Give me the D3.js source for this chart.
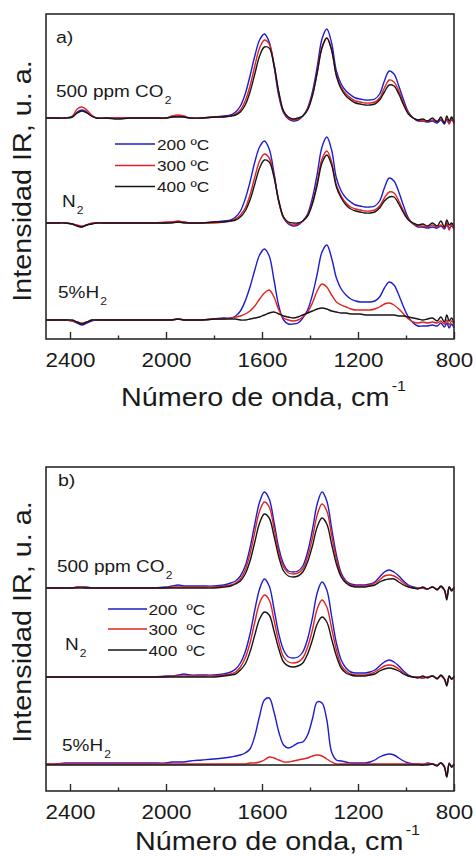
<!DOCTYPE html>
<html>
<head>
<meta charset="utf-8">
<script src="https://cdn.jsdelivr.net/npm/d3@7"></script>
<style>
  body { margin: 0; background: #fff; }
  svg text { font-family: "Liberation Sans", Arial, sans-serif; fill: #1a1a1a; }
</style>
</head>
<body>
<script>
//wavenumber grid shared by every spectrum (cm-1)
var wavenumbers = [
  2500,2460,2420,2390,2370,2350,2330,2310,2290,2250,
  2200,2150,2100,2050,2000,1975,1950,1925,1900,1850,
  1800,1760,1730,1710,1690,1670,1650,1630,1610,1590,
  1570,1550,1530,1510,1490,1470,1450,1430,1410,1390,
  1370,1350,1330,1310,1290,1270,1250,1230,1210,1190,
  1170,1150,1130,1110,1090,1070,1050,1030,1010,990,
  970,950,930,910,890,870,855,840,830,820,
  810,800];

var temperatures = ['200', '300', '400'];
var colors = ['#1c1cd0', '#e2221e', '#151515'];
var gasNames = ['500 ppm CO', 'N', '5%H'];   //each one gets a subscript 2
var majorTicks = [2400, 2000, 1600, 1200, 800];
var minorTicks = [2200, 1800, 1400, 1000];

//vertical offset of each gas trace (a.u.)
var offsetsA = [221, 116, 19];
var offsetsB = [203, 114, 27];

//PANEL A intensities above each baseline (a.u.)
var a_co2_200 = [
  0,0,0,1,6,8,6,2,0,0,
  0,0,0,0,0,1,2,1,0,0,
  1,2,3,6,12,24,42,62,78,84,
  76,52,22,5,-1,-3,-2,2,10,26,
  51,79,89,75,47,34,27,23,20,19,
  18,18,19,24,37,47,44,32,18,6,
  0,-3,-3,-4,-3,-5,-2,-6,-1,-5,
  -2,-4];
var a_co2_300 = [
  0,0,0,2,9,11,8,3,0,0,
  0,0,0,0,0,2,3,2,0,0,
  1,1,2,4,8,17,32,52,70,78,
  74,54,25,6,0,-2,-1,2,9,23,
  46,71,80,68,43,31,24,20,17,16,
  15,15,16,20,30,38,36,27,15,5,
  0,-2,-3,-3,-2,-3,-1,-4,-2,-6,
  0,-6];
var a_co2_400 = [
  0,0,0,1,5,7,5,2,0,0,
  -1,0,0,0,0,1,1,1,0,0,
  1,1,2,3,6,13,26,44,62,71,
  70,53,26,7,1,-1,0,2,8,22,
  45,70,80,68,42,29,22,18,15,14,
  13,13,14,18,26,33,32,24,13,4,
  0,-2,-1,-3,0,-4,1,-5,2,-3,
  1,-4];
var a_n2_200 = [
  0,0,0,-1,-3,-4,-2,-1,0,0,
  0,0,0,0,0,1,1,1,0,0,
  1,2,3,6,12,24,41,61,76,82,
  74,50,21,5,-1,-3,-2,2,9,25,
  49,76,86,73,45,32,25,21,18,17,
  16,16,17,22,35,45,42,31,17,5,
  -1,-4,-4,-5,-4,-5,-3,-6,-2,-5,
  -3,-6];
var a_n2_300 = [
  0,0,0,-1,-2,-3,-2,0,0,0,
  0,0,0,0,1,1,2,1,0,0,
  0,1,2,4,8,15,28,46,62,69,
  65,47,22,5,0,-2,-1,2,8,21,
  41,64,72,61,38,27,20,16,14,13,
  12,12,13,17,25,31,30,22,12,4,
  -1,-3,-3,-4,-2,-4,-2,-5,0,-7,
  -1,-5];
var a_n2_400 = [
  0,0,0,-1,-3,-4,-2,-1,0,0,
  0,0,0,0,0,0,1,0,0,0,
  1,1,2,3,6,12,23,39,55,63,
  61,46,22,6,1,0,0,2,7,19,
  38,60,68,58,36,25,18,14,12,11,
  10,10,11,15,22,26,26,19,10,3,
  0,-2,-1,-3,0,-3,2,-4,3,-2,
  0,-3];
var a_h2_200 = [
  0,0,0,-1,-3,-5,-3,-1,0,0,
  0,0,0,0,0,0,1,0,0,0,
  1,2,2,4,9,19,33,50,65,71,
  64,40,14,0,-4,-4,-3,2,10,25,
  46,68,75,62,42,31,25,21,19,18,
  18,18,19,23,32,38,35,25,13,3,
  -3,-6,-6,-6,-5,-6,-3,-7,-3,-8,
  -4,-8];
var a_h2_300 = [
  0,0,0,-1,-2,-3,-2,0,0,0,
  0,0,0,0,0,0,1,0,0,0,
  1,1,2,3,4,6,9,14,21,27,
  30,23,10,2,0,-1,0,3,8,17,
  29,36,33,25,18,15,13,11,10,10,
  10,10,11,13,16,17,15,11,6,1,
  -2,-3,-2,-3,-2,-3,-1,-4,0,-5,
  -1,-4];
var a_h2_400 = [
  0,0,0,0,-2,-4,-2,0,0,0,
  0,0,0,0,0,0,1,0,0,0,
  1,1,1,1,0,0,1,2,3,5,
  7,8,6,4,3,2,3,5,7,9,
  11,12,11,9,8,7,7,6,6,6,
  5,5,5,5,5,5,5,4,4,3,
  2,1,0,1,2,-1,3,-2,5,-1,
  2,-3];

//PANEL B intensities above each baseline (a.u.)
var b_co2_200 = [
  0,0,0,0,1,1,1,0,0,0,
  0,0,0,0,1,2,3,2,2,2,
  2,3,5,7,12,22,40,64,86,96,
  89,66,40,24,17,16,17,22,36,58,
  84,96,87,60,33,15,7,4,3,3,
  3,4,6,11,16,18,16,12,7,3,
  1,0,0,-1,1,-1,1,-2,-10,1,
  -2,0];
var b_co2_300 = [
  0,0,0,0,1,1,0,0,0,0,
  0,0,0,0,0,1,1,1,1,1,
  1,2,3,5,9,18,34,56,77,86,
  81,60,36,21,15,14,15,19,31,50,
  73,84,77,53,29,13,6,3,2,2,
  2,3,5,8,12,13,12,9,5,2,
  0,0,0,-1,1,-1,1,-2,-9,0,
  -2,0];
var b_co2_400 = [
  0,0,0,0,0,0,0,0,0,0,
  0,0,0,0,0,0,0,0,0,0,
  0,1,2,4,7,14,27,46,65,74,
  70,52,31,17,12,11,12,16,26,42,
  61,70,64,44,24,11,5,2,1,1,
  1,2,3,6,8,9,9,6,3,1,
  0,-1,1,-1,1,-2,2,-2,-12,1,
  -3,1];
var b_n2_200 = [
  0,0,0,0,0,0,0,0,0,0,
  0,0,0,0,1,1,2,3,2,2,
  2,3,5,8,14,25,43,67,88,98,
  91,68,43,27,20,19,20,25,38,59,
  84,95,87,61,34,17,9,5,4,4,
  4,5,7,11,15,17,15,11,6,2,
  0,0,-1,0,1,-1,1,-2,-8,1,
  -2,0];
var b_n2_300 = [
  0,0,0,0,0,0,0,0,0,0,
  0,0,0,0,0,1,1,1,1,1,
  1,2,3,5,10,19,34,55,74,82,
  77,57,35,20,15,14,15,19,30,47,
  68,77,70,49,27,12,6,3,2,2,
  2,3,5,8,11,12,11,8,4,1,
  0,0,-1,0,1,-1,1,-2,-7,0,
  -2,0];
var b_n2_400 = [
  0,0,0,0,0,0,0,0,0,0,
  0,0,0,0,0,0,0,0,0,0,
  0,1,2,3,7,13,25,42,58,65,
  62,46,28,15,11,10,11,14,23,37,
  53,60,55,38,21,9,4,2,1,1,
  1,2,3,6,8,9,8,6,3,1,
  0,-1,1,-1,1,-2,2,-2,-9,1,
  -2,1];
var b_h2_200 = [
  0,0,1,1,1,1,1,1,1,1,
  1,1,1,1,1,2,2,2,3,4,
  5,6,7,8,9,11,15,28,48,64,
  66,52,32,19,16,18,21,22,29,45,
  62,61,44,12,4,3,2,1,1,1,
  1,2,4,7,9,10,9,6,3,1,
  0,0,-1,1,0,-1,1,-3,-13,1,
  -3,0];
var b_h2_300 = [
  0,0,0,0,0,0,0,0,0,0,
  0,0,0,0,0,0,0,0,0,0,
  0,0,0,0,0,0,1,1,2,4,
  7,6,4,2,2,3,4,5,6,8,
  9,8,5,2,0,0,0,0,0,0,
  0,0,0,0,0,0,0,0,0,0,
  0,0,0,0,0,-1,1,-2,-12,0,
  -2,0];
var b_h2_400 = [
  -1,-1,-1,-1,-1,-1,-1,-1,-1,-1,
  -1,-1,-1,-1,-1,-1,-1,-1,-1,-1,
  -1,-1,-1,-1,-1,-1,-1,-1,-1,-1,
  -1,-1,-1,-1,-1,-1,-1,-1,-1,-1,
  -1,-1,-1,-1,-1,-1,-1,-1,-1,-1,
  -1,-1,-1,-1,-1,-1,-1,-1,-1,-1,
  -1,-1,-1,-1,0,-2,1,-3,-13,0,
  -3,-1];

var seriesA = [[a_co2_200, a_co2_300, a_co2_400],
               [a_n2_200, a_n2_300, a_n2_400],
               [a_h2_200, a_h2_300, a_h2_400]];
var seriesB = [[b_co2_200, b_co2_300, b_co2_400],
               [b_n2_200, b_n2_300, b_n2_400],
               [b_h2_200, b_h2_300, b_h2_400]];

//page geometry
var width = 476,
    height = 856,
    xLeft = 46,
    xRight = 454,
    stretch = 1.15;   //lettering in the figure is wider than arial

var svg = d3.select('body').append('svg')
    .attr('width', width)
    .attr('height', height);

var x = d3.scaleLinear().domain([2500, 800]).range([xLeft, xRight]);

//text placed with a horizontal stretch
var addText = function(str, px, py, size, rotated){
  var t = svg.append('text')
      .attr('transform', 'translate(' + px + ',' + py + ')' +
            (rotated ? ' rotate(-90)' : '') + ' scale(' + stretch + ',1)')
      .attr('font-size', size)
      .text(str);
  return t;
};

var drawPanel = function(p){
  var y = d3.scaleLinear().domain([0, p.bottom - p.top]).range([p.bottom, p.top]);

  //spectra: blue first, black last on top
  temperatures.forEach(function(temp, t){
    p.series.forEach(function(gas, g){
      var line = d3.line()
          .x(function(d, i){ return x(wavenumbers[i]); })
          .y(function(d){ return y(p.offsets[g] + d); })
          .curve(d3.curveCatmullRom.alpha(0.5));
      svg.append('path')
          .attr('d', line(gas[t]))
          .attr('fill', 'none')
          .attr('stroke', colors[t])
          .attr('stroke-width', 1.4)
          .attr('stroke-linejoin', 'round');
    });
  });

  //frame
  svg.append('rect')
      .attr('x', xLeft).attr('y', p.top)
      .attr('width', xRight - xLeft).attr('height', p.bottom - p.top)
      .attr('fill', 'none')
      .attr('stroke', '#2a2a2a')
      .attr('stroke-width', 1.6);

  //ticks point inward
  var gx = svg.append('g')
      .attr('transform', 'translate(0,' + p.bottom + ')')
      .call(d3.axisBottom(x).tickValues(majorTicks).tickSize(-7)
            .tickSizeOuter(0).tickPadding(13.5).tickFormat(d3.format('d')));
  gx.attr('font-size', 20).attr('font-family', null);
  gx.select('.domain').remove();
  gx.selectAll('line').attr('stroke', '#2a2a2a').attr('stroke-width', 1.4);
  gx.selectAll('text').attr('transform', 'scale(1.12,1)');

  var gm = svg.append('g')
      .attr('transform', 'translate(0,' + p.bottom + ')')
      .call(d3.axisBottom(x).tickValues(minorTicks).tickSize(-3.5)
            .tickSizeOuter(0).tickFormat(''));
  gm.select('.domain').remove();
  gm.selectAll('line').attr('stroke', '#2a2a2a').attr('stroke-width', 1.4);

  //panel letter
  addText(p.letter, p.letterPos[0], p.letterPos[1], 17);

  //gas names with subscript 2
  gasNames.forEach(function(name, g){
    var t = addText(name, p.gasPos[g][0], p.gasPos[g][1], 16.5);
    t.append('tspan').attr('font-size', 10.5).attr('dx', 1).attr('dy', 7).text('2');
  });

  //legend
  temperatures.forEach(function(temp, t){
    var ly = p.legend.ys[t];
    svg.append('line')
        .attr('x1', p.legend.x0).attr('x2', p.legend.x1)
        .attr('y1', ly).attr('y2', ly)
        .attr('stroke', colors[t])
        .attr('stroke-width', 1.6);
    if (p.legend.unitX){
      addText(temp, p.legend.textX, ly + 5.5, 15);
      addText('\u00baC', p.legend.unitX, ly + 5.5, 15);
    } else {
      addText(temp + ' \u00baC', p.legend.textX, ly + 5.5, 15);
    }
  });

  //axis titles
  var xt = addText('N\u00famero de onda, cm', p.xTitle[0], p.xTitle[1], 25);
  xt.append('tspan').attr('font-size', 14).attr('dx', 2).attr('dy', -15).text('-1');

  addText('Intensidad IR, u. a.', 31, p.yTitleY, 25, true)
      .attr('text-anchor', 'middle');
};

drawPanel({
  top: 14, bottom: 339,
  offsets: offsetsA, series: seriesA,
  letter: 'a)', letterPos: [56, 43],
  gasPos: [[56, 97], [62, 207], [58, 298]],
  legend: {x0: 115, x1: 155, ys: [144, 165.5, 186.5], textX: 157},
  xTitle: [121, 406],
  yTitleY: 181
});

drawPanel({
  top: 467, bottom: 791,
  offsets: offsetsB, series: seriesB,
  letter: 'b)', letterPos: [58, 486],
  gasPos: [[57, 572], [65, 650], [62, 751]],
  legend: {x0: 108, x1: 147, ys: [609, 629, 650], textX: 148.5, unitX: 186.5},
  xTitle: [135, 850],
  yTitleY: 622
});
</script>
</body>
</html>
